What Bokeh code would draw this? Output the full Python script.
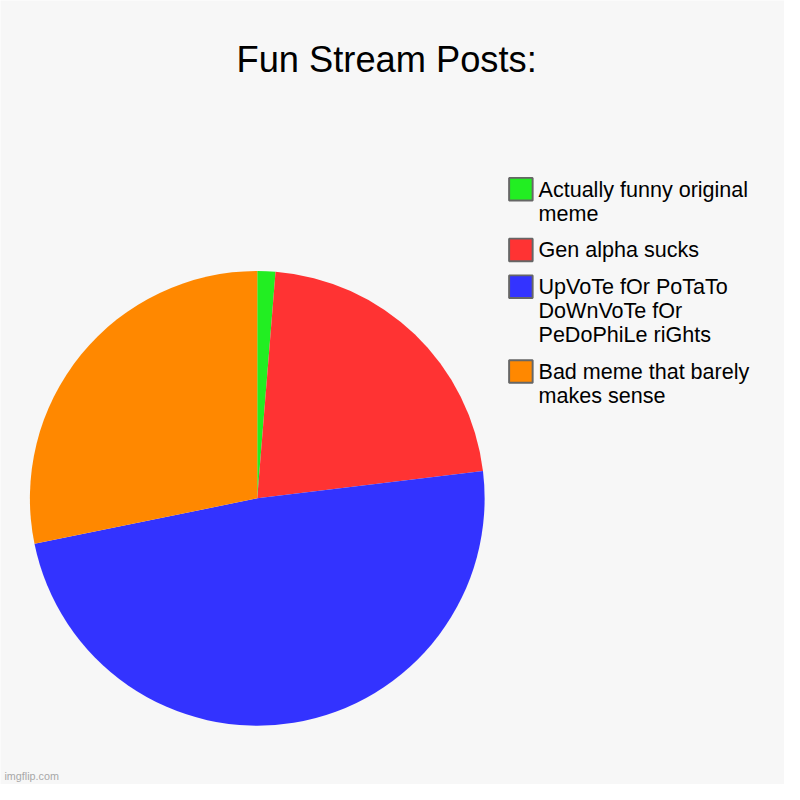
import numpy as np
from bokeh.plotting import figure
from bokeh.models import ColumnDataSource, Range1d
from bokeh.core.properties import value
from bokeh.embed import file_html
from bokeh.resources import INLINE

title = "Fun Stream Posts:"
labels = [
    "Actually funny original\nmeme",
    "Gen alpha sucks",
    "UpVoTe fOr PoTaTo\nDoWnVoTe fOr\nPeDoPhiLe riGhts",
    "Bad meme that barely\nmakes sense",
]
values = [1, 17, 38, 22]
colors = ["#22ee22", "#ff3333", "#3333ff", "#ff8800"]
watermark = "imgflip.com"

FONT = value("Liberation Sans")
BG = "#f7f7f7"
W = H = 784
REF = 800.0
S = W / REF  # pixel scale of the 800-unit design space


def px(v):
    return f"{v * S:.2f}px"


p = figure(width=W, height=H, x_range=Range1d(0, REF), y_range=Range1d(0, REF),
           output_backend="svg", toolbar_location=None, min_border=0,
           x_axis_location=None, y_axis_location=None,
           background_fill_color=BG, border_fill_color=BG, outline_line_color=None)
p.grid.visible = False


def Y(sy):
    return REF - sy


# pie
cx, cy, r = 262, 508, 232
frac = np.array(values, dtype=float) / sum(values)
cum = np.concatenate([[0.0], np.cumsum(frac)])
start = np.pi / 2 - 2 * np.pi * cum[:-1]
end = np.pi / 2 - 2 * np.pi * cum[1:]
src = ColumnDataSource(dict(start=start, end=end, color=colors))
p.wedge(x=cx, y=Y(cy), radius=r, start_angle="start", end_angle="end",
        direction="clock", fill_color="color", line_color=None, source=src)

# title
p.text(x=[394], y=[Y(60)], text=[title], text_font=FONT, text_font_size=px(37),
       text_color="#000000", text_align="center", text_baseline="alphabetic")

# legend
line_h = 24.5
gap = 13
yc = 192.5
by = []
lx, ly, lt = [], [], []
for lab in labels:
    lines = lab.split("\n")
    by.append(Y(yc))
    for i, ln in enumerate(lines):
        lx.append(549)
        ly.append(Y(yc + i * line_h))
        lt.append(ln)
    yc += len(lines) * line_h + gap

p.rect(x=[531] * len(labels), y=by, width=24, height=23, fill_color=colors,
       line_color="#666666", line_width=2 * S)
p.text(x=lx, y=ly, text=lt, text_font=FONT, text_font_size=px(22),
       text_color="#000000", text_align="left", text_baseline="middle")

# watermark
p.text(x=[4], y=[Y(791)], text=[watermark], text_font=FONT, text_font_size=px(11),
       text_color="#a8a8a8", text_align="left", text_baseline="middle")

open("out.html", "w").write(file_html(p, INLINE))
